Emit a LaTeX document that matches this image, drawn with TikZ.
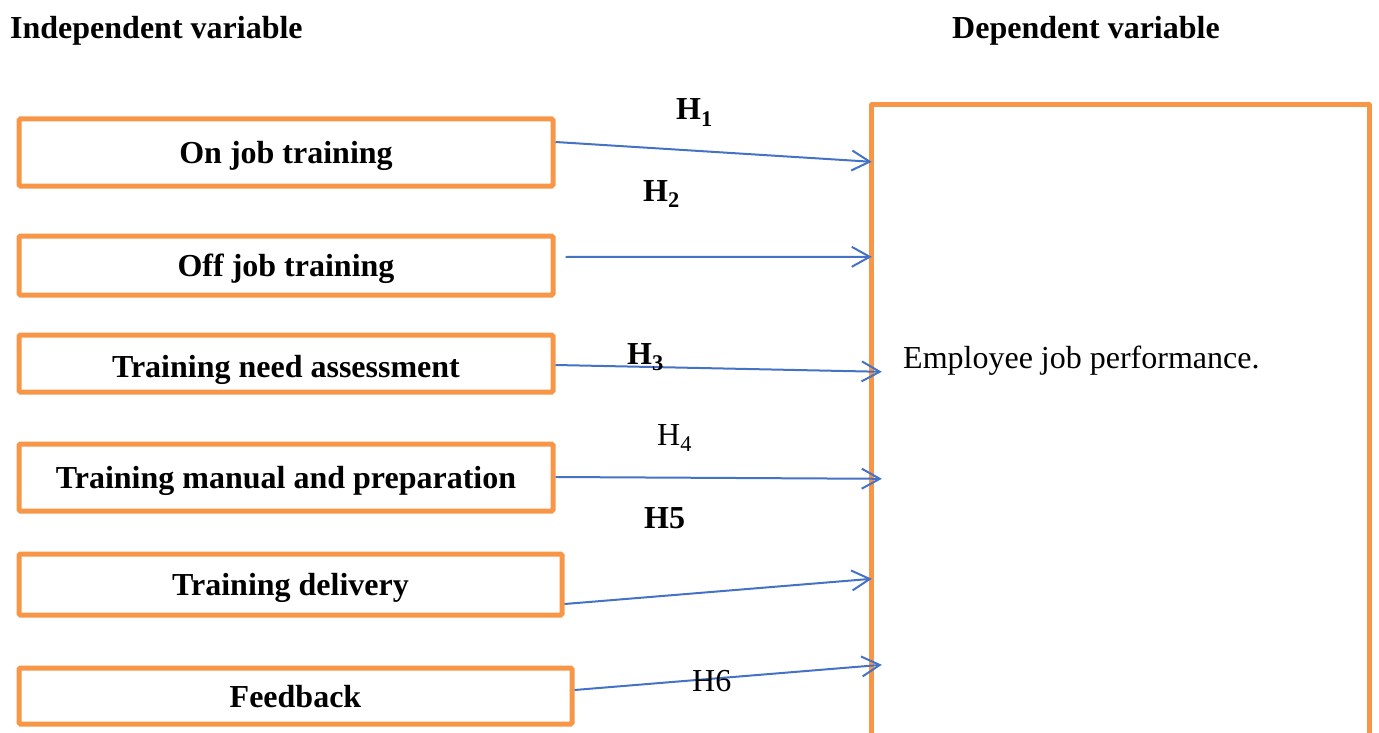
\documentclass[tikz,border=0pt]{standalone}
\usepackage{fontspec}
\setmainfont{Liberation Serif}
\usetikzlibrary{arrows.meta}
\definecolor{boxorange}{RGB}{247,150,70}
\definecolor{arrowblue}{RGB}{68,114,196}
\begin{document}
\begin{tikzpicture}[x=1pt,y=-1pt,
  ivbox/.style={draw=boxorange, line width=5pt, rounded corners=1.5pt,
    font=\fontsize{32}{38}\selectfont\bfseries, text height=22pt, text depth=0pt,
    inner sep=0pt, minimum width=534pt},
  dvline/.style={draw=boxorange, line width=5pt, line join=round},
  hyp/.style={draw=arrowblue, line width=2pt, -{Straight Barb[length=18pt,width=20pt]}},
  lbl/.style={anchor=base west, inner sep=0pt, font=\fontsize{32}{38}\selectfont},
  blbl/.style={lbl, font=\fontsize{32}{38}\selectfont\bfseries}]
\useasboundingbox (0,0) rectangle (1379,733);

% headers
\node[blbl] (hiv) at (10,39) {Independent variable};
\node[blbl] (hdv) at (952,39) {Dependent variable};

% independent variable boxes
\node[ivbox, minimum height=67pt] (b1) at (286,152.5) {On job training};
\node[ivbox, minimum height=59pt] (b2) at (286,265.5) {Off job training};
\node[ivbox, minimum height=57pt, text height=27pt] (b3) at (286,363.5) {Training need assessment};
\node[ivbox, minimum height=67pt] (b4) at (286,477.5) {Training manual and preparation};
\node[ivbox, minimum height=61pt, minimum width=543pt] (b5) at (290.5,584.5) {Training delivery};
\node[ivbox, minimum height=56pt, minimum width=553pt] (b6) at (295.5,696) {Feedback};

% dependent variable box (open at the bottom)
\node[minimum width=497pt, minimum height=628pt, inner sep=0pt] (dv) at (1120.5,419) {};
\draw[dvline] (dv.south west) -- (dv.north west) -- (dv.north east) -- (dv.south east);
\node[lbl] (dvt) at (903,368) {Employee job performance.};

% connectors
\draw[hyp] ([yshift=10.5pt]b1.east) -- ([yshift=-57pt]dv.north west);
\draw[hyp] ([xshift=10pt,yshift=8.5pt]b2.east) -- ([yshift=-152pt]dv.north west);
\draw[hyp] ([yshift=-1.5pt]b3.east) -- ([xshift=10pt,yshift=-267pt]dv.north west);
\draw[hyp] ([yshift=0.5pt]b4.east) -- ([xshift=10pt,yshift=-374pt]dv.north west);
\draw[hyp] ([yshift=-19.5pt]b5.east) -- ([yshift=-474pt]dv.north west);
\draw[hyp] ([yshift=6pt]b6.east) -- ([xshift=10pt,yshift=-560pt]dv.north west);

% hypothesis labels
\node[blbl] (h1) at (676,120) {H\textsubscript{1}};
\node[blbl] (h2) at (643,201) {H\textsubscript{2}};
\node[blbl] (h3) at (627,364) {H\textsubscript{3}};
\node[lbl]  (h4) at (657,445) {H\textsubscript{4}};
\node[blbl] (h5) at (644,528) {H5};
\node[lbl]  (h6) at (692,691) {H6};
\end{tikzpicture}
\end{document}
